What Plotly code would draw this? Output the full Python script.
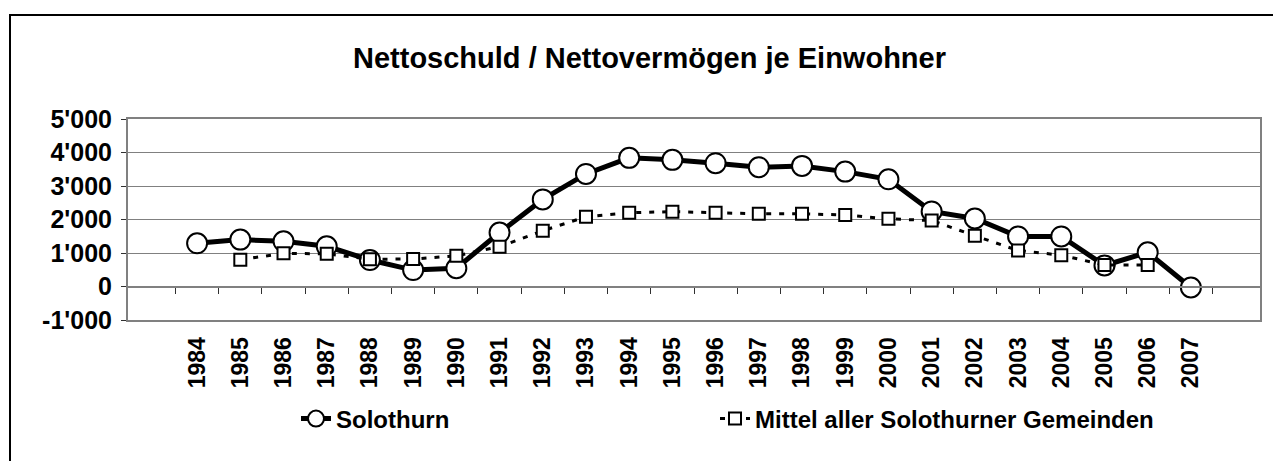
import plotly.graph_objects as go

# data
years = [str(y) for y in range(1984, 2008)]
solothurn = [1290, 1400, 1350, 1200, 790, 490, 545, 1610, 2600, 3360, 3840, 3780, 3680,
             3560, 3600, 3430, 3200, 2240, 2030, 1495, 1495, 630, 1020, -30]
mittel = [None, 800, 990, 975, 815, 820, 915, 1190, 1665, 2080, 2200, 2235, 2200,
          2170, 2170, 2135, 2020, 1970, 1515, 1075, 935, 640, 640, None]
y_ticks = [-1000, 0, 1000, 2000, 3000, 4000, 5000]
y_tick_text = ["-1'000", "0", "1'000", "2'000", "3'000", "4'000", "5'000"]

# the page body has an 8px margin, so the figure is drawn 8px in from the corner
OFF = 8
W, H = 1281 - OFF, 461 - OFF
ML, MT = 128 - OFF, 119 - OFF
plot_w, plot_h = 1132, 201
MR = W - ML - plot_w
MB = H - MT - plot_h
FONT = "Liberation Sans, Arial, sans-serif"
GREY = "#808080"


def px_x(x):
    # absolute window x -> paper x
    return (x - OFF - ML) / plot_w


def px_y(y):
    # absolute window y -> paper y
    return 1 - (y - OFF - MT) / plot_h


fig = go.Figure()

fig.add_trace(go.Scatter(
    x=years, y=solothurn, name="Solothurn", mode="lines+markers", legend="legend",
    line=dict(color="black", width=5),
    marker=dict(symbol="circle", size=20, color="white", line=dict(color="black", width=2)),
))
fig.add_trace(go.Scatter(
    x=years, y=mittel, name="Mittel aller Solothurner Gemeinden", mode="lines+markers",
    legend="legend2",
    line=dict(color="black", width=3, dash="5px,8px"),
    marker=dict(symbol="square", size=12, color="white", line=dict(color="black", width=2)),
))
# helper trace so the zero-line axis with its category ticks is drawn
fig.add_trace(go.Scatter(x=years, y=[None] * len(years), xaxis="x2", showlegend=False,
                         hoverinfo="skip"))

zero_pos = (0 - y_ticks[0]) / (y_ticks[-1] - y_ticks[0])
legend_font = dict(size=24, family=FONT, color="black", weight="bold")

fig.update_layout(
    width=W, height=H,
    margin=dict(l=ML, r=MR, t=MT, b=MB, autoexpand=False),
    paper_bgcolor="white", plot_bgcolor="white",
    font=dict(family=FONT, color="black"),
    title=dict(text="<b>Nettoschuld / Nettovermögen je Einwohner</b>",
               font=dict(size=29, family=FONT, color="black"),
               x=(649.5 - OFF) / W, xref="container", xanchor="center",
               y=1 - (58 - OFF) / H, yref="container", yanchor="middle"),
    xaxis=dict(type="category", showgrid=False, ticks="", tickangle=-90,
               tickfont=dict(size=23, family=FONT, weight="bold"), ticklabelstandoff=6,
               showline=True, mirror=True, linecolor=GREY, linewidth=2),
    xaxis2=dict(type="category", overlaying="x", matches="x", anchor="free",
                position=zero_pos, side="bottom", showgrid=False, showticklabels=False,
                ticks="outside", ticklen=6, tickwidth=1, tickcolor="#303030",
                tickson="boundaries", showline=True, linecolor=GREY, linewidth=2),
    yaxis=dict(range=[y_ticks[0], y_ticks[-1]], tickvals=y_ticks, ticktext=y_tick_text,
               tickfont=dict(size=25, family=FONT, weight="bold"), ticks="outside", ticklen=5,
               tickcolor="#303030", ticklabelstandoff=4,
               showgrid=True, gridcolor=GREY, gridwidth=1, zeroline=False,
               showline=True, mirror=True, linecolor=GREY, linewidth=2),
    showlegend=True,
    legend=dict(orientation="h", x=px_x(338 - 42), xanchor="left",
                y=px_y(419), yanchor="middle", font=legend_font,
                bgcolor="rgba(0,0,0,0)"),
    legend2=dict(orientation="h", x=px_x(757 - 42), xanchor="left",
                 y=px_y(419), yanchor="middle", font=legend_font,
                 bgcolor="rgba(0,0,0,0)"),
    shapes=[dict(type="rect", xref="paper", yref="paper",
                 x0=px_x(10), x1=1.05,
                 y0=-0.8, y1=px_y(15),
                 line=dict(color="black", width=2), fillcolor="rgba(0,0,0,0)",
                 layer="below")],
)

fig.write_html("out.html")
